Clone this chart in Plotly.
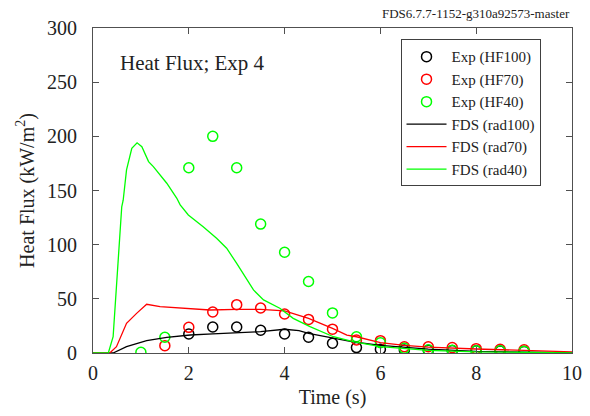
import plotly.graph_objects as go

# Experimental data
t_exp_hf100 = [2, 2.5, 3, 3.5, 4, 4.5, 5, 5.5, 6, 6.5, 7, 7.5, 8, 8.5, 9]
hf100 = [17.5, 24, 24, 21, 17.5, 14.5, 9, 5, 3.4, 2.8, 2.5, 2.2, 2, 1.8, 1.5]
t_exp_hf70 = [1.5, 2, 2.5, 3, 3.5, 4, 4.5, 5, 5.5, 6, 6.5, 7, 7.5, 8, 8.5, 9]
hf70 = [6.8, 23.7, 37.8, 44.6, 41.5, 36, 31, 22, 12, 11.4, 5.8, 5.8, 5, 4, 3.5, 3]
t_exp_hf40 = [1, 1.5, 2, 2.5, 3, 3.5, 4, 4.5, 5, 5.5, 6, 6.5, 7, 7.5, 8, 8.5, 9]
hf40 = [0.6, 14.5, 171, 200, 171, 119, 93, 66, 37, 15, 9.5, 4.3, 3, 2.5, 2, 2, 1.7]

# FDS predictions
t_rad100 = [0, 0.42, 0.7, 1.12, 1.54, 2.03, 2.5, 3.0, 3.5, 4.0, 4.3, 4.5, 5.0, 5.4, 6.0, 7.0, 8.0, 9.0, 10.0]
rad100 = [0, 0, 5.8, 11.4, 14.5, 16.6, 17.6, 18.8, 19.7, 21.9, 20.6, 18.2, 13.5, 10.4, 7.0, 3.5, 1.5, 0.7, 0.3]
t_rad70 = [0, 0.35, 0.49, 0.7, 0.91, 1.12, 1.4, 1.96, 2.44, 3.0, 3.5, 4.0, 4.3, 4.5, 5.0, 5.3, 5.5, 6.0, 6.5, 7.0, 8.0, 9.0, 10.0]
rad70 = [0, 0, 5.8, 27.4, 36.6, 45, 42.8, 41.3, 39.7, 40.3, 40.3, 38.8, 35, 32, 22.8, 16.6, 15, 9.5, 7, 5.5, 3.7, 2, 1]
t_rad40 = [0, 0.32, 0.42, 0.5, 0.6, 0.63, 0.7, 0.81, 0.92, 1.02, 1.16, 1.26, 1.47, 1.54, 1.75, 1.82, 1.99, 2.3, 2.58, 2.79, 3.0,
           3.21, 3.35, 3.56, 3.9, 4.18, 4.53, 5.02, 5.43, 6.0, 7.0, 8.0, 9.0, 10.0]
rad40 = [0, 0, 15, 70, 135, 141, 169, 189, 194, 190.5, 176.7, 172, 159.7, 156.7, 142.8, 136.7, 127.4, 116.6, 105.9, 96.7, 82.8,
         67.4, 58.2, 49, 41.3, 32, 24.3, 15, 10.4, 5.8, 2.5, 1, 0.5, 0.2]

x_ticks = [0, 2, 4, 6, 8, 10]
y_ticks = [0, 50, 100, 150, 200, 250, 300]

BLACK = "#000000"
RED = "#ff0000"
GREEN = "#00ff00"
FONT = "Liberation Serif"
TXT = "#222222"

fig = go.Figure()

def exp_trace(x, y, color, name):
    fig.add_trace(go.Scatter(
        x=x, y=y, mode="markers", name=name,
        marker=dict(symbol="circle-open", size=10, color=color, line=dict(width=1.5, color=color)),
    ))

def fds_trace(x, y, color, name):
    fig.add_trace(go.Scatter(
        x=x, y=y, mode="lines", name=name,
        line=dict(color=color, width=1.3),
    ))

exp_trace(t_exp_hf100, hf100, BLACK, "Exp (HF100)")
exp_trace(t_exp_hf70, hf70, RED, "Exp (HF70)")
exp_trace(t_exp_hf40, hf40, GREEN, "Exp (HF40)")
fds_trace(t_rad100, rad100, BLACK, "FDS (rad100)")
fds_trace(t_rad70, rad70, RED, "FDS (rad70)")
fds_trace(t_rad40, rad40, GREEN, "FDS (rad40)")

fig.update_layout(
    template="none",
    width=590, height=416,
    margin=dict(l=93, r=18, t=28, b=63),
    paper_bgcolor="white", plot_bgcolor="white",
    font=dict(family=FONT, color=TXT, size=20),
    showlegend=True,
)
fig.update_xaxes(
    range=[0, 10], tickmode="array", tickvals=x_ticks, ticktext=[str(v) for v in x_ticks],
    showgrid=False, zeroline=False, showline=True, mirror="ticks",
    linecolor="#505050", linewidth=1, ticks="inside", ticklen=6, tickcolor="#505050",
    tickfont=dict(family=FONT, size=20, color=TXT), automargin=False, ticklabelstandoff=2,
    title=dict(text="Time (s)", font=dict(family=FONT, size=20, color=TXT), standoff=6),
)
fig.update_yaxes(
    range=[0, 300], tickmode="array", tickvals=y_ticks, ticktext=[str(v) for v in y_ticks],
    showgrid=False, zeroline=False, showline=True, mirror="ticks",
    linecolor="#505050", linewidth=1, ticks="inside", ticklen=6, tickcolor="#505050",
    tickfont=dict(family=FONT, size=20, color=TXT), automargin=False, ticklabelstandoff=11,
    title=dict(text="Heat Flux (kW/m<sup>2</sup>)", font=dict(family=FONT, size=20, color=TXT), standoff=7),
)
fig.update_layout(
    legend=dict(
        x=0.642, y=0.965, xanchor="left", yanchor="top",
        bordercolor="#404040", borderwidth=1, bgcolor="white",
        font=dict(family=FONT, size=15, color=TXT),
        tracegroupgap=0, itemwidth=40,
    ),
    annotations=[
        dict(text="Heat Flux; Exp 4", xref="paper", yref="paper", x=0.052, y=0.892,
             xanchor="left", yanchor="middle", showarrow=False,
             font=dict(family=FONT, size=21, color=TXT)),
        dict(text="FDS6.7.7-1152-g310a92573-master", xref="paper", yref="paper", x=1.0, y=1.046,
             xanchor="right", yanchor="middle", showarrow=False,
             font=dict(family=FONT, size=13, color=TXT)),
    ],
)

fig.write_html("out.html", config={"displayModeBar": False},
               post_script="document.body.style.margin='0';document.body.style.overflow='hidden';")
